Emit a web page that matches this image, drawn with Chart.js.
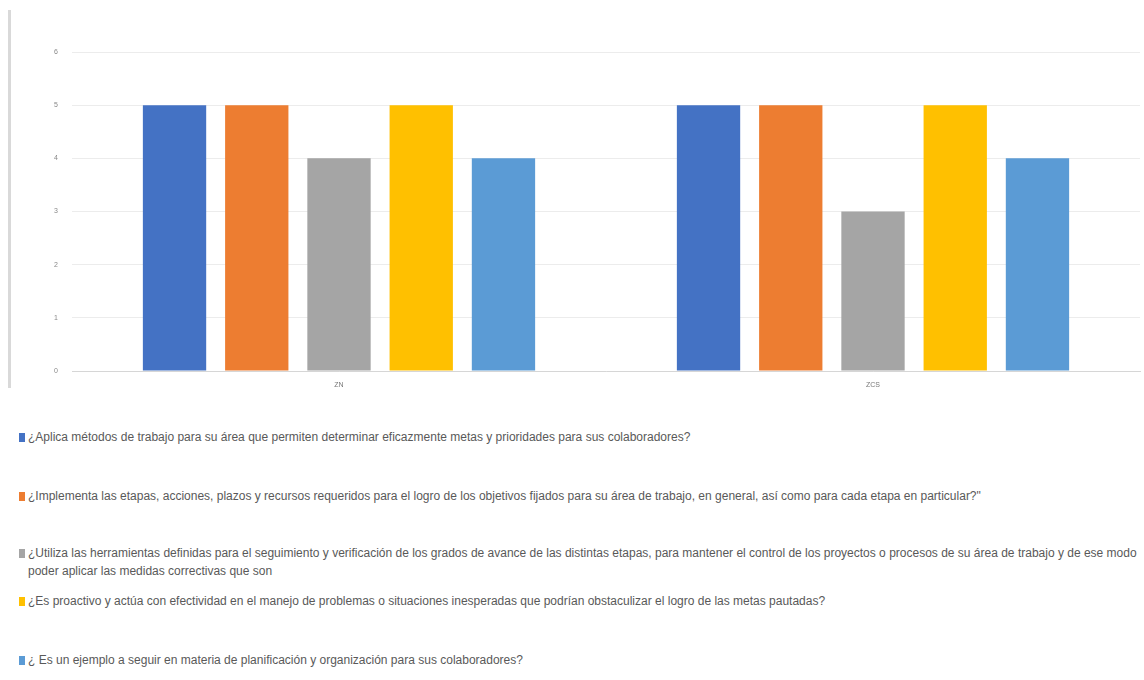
<!DOCTYPE html>
<html>
<head>
<meta charset="utf-8">
<script src="https://cdn.jsdelivr.net/npm/chart.js@4.4.0/dist/chart.umd.min.js"></script>
<style>
  body { margin: 0; background: #fff; width: 1144px; height: 680px; overflow: hidden; position: relative; }
  #chart-box { position: absolute; left: 0; top: 0; width: 1144px; height: 392px; }
  #frame { position: absolute; left: 8px; top: 10px; height: 378px; border-left: 3px solid #d9d9d9; }
  .item { position: absolute; left: 19px; width: 1116px; padding-left: 9px; text-indent: -9px;
          font-family: "Liberation Sans", Arial, sans-serif; font-size: 12px; line-height: 18px; color: #595959; }
  .item i { display: inline-block; width: 6px; height: 9px; margin-right: 3px; vertical-align: -1px; }
</style>
</head>
<body>
<div id="chart-box"><canvas id="bars"></canvas></div>
<div id="frame"></div>
<div id="legend"></div>
<script>
// categories and answers per question
const zones = ["ZN", "ZCS"];
const questions = [
  "¿Aplica métodos de trabajo para su área que permiten determinar eficazmente metas y prioridades para sus colaboradores?",
  "¿Implementa las etapas, acciones, plazos y recursos requeridos para el logro de los objetivos fijados para su área de trabajo, en general, así como para cada etapa en particular?\"",
  "¿Utiliza las herramientas definidas para el seguimiento y verificación de los grados de avance de las distintas etapas, para mantener el control de los proyectos o procesos de su área de trabajo y de ese modo poder aplicar las medidas correctivas que son",
  "¿Es proactivo y actúa con efectividad en el manejo de problemas o situaciones inesperadas que podrían obstaculizar el logro de las metas pautadas?",
  "¿ Es un ejemplo a seguir en materia de planificación y organización para sus colaboradores?"
];
const q1 = [5, 5];
const q2 = [5, 5];
const q3 = [4, 3];
const q4 = [5, 5];
const q5 = [4, 4];
const colors = ["#4472C4", "#ED7D31", "#A5A5A5", "#FFC000", "#5B9BD5"];
const legendTops = [428, 487, 544, 592, 651];

const series = [q1, q2, q3, q4, q5];

const context = document.getElementById("bars").getContext("2d");
const chart = new Chart(context, {
  type: "bar",
  data: {
    labels: zones,
    datasets: series.map((values, i) => ({
      label: questions[i],
      data: values,
      backgroundColor: colors[i],
      barPercentage: 0.77,
      categoryPercentage: 0.77
    }))
  },
  options: {
    responsive: true,
    maintainAspectRatio: false,
    animation: false,
    layout: { padding: { left: 14, top: 52, right: 4, bottom: 0 } },
    plugins: { legend: { display: false }, tooltip: { enabled: false } },
    scales: {
      x: {
        grid: { display: false },
        border: { color: "#d6d6d6", width: 1 },
        ticks: { color: "#777", font: { size: 7 }, padding: 2 },
        afterFit: (scale) => { scale.height = 21; }
      },
      y: {
        min: 0,
        max: 6,
        ticks: { stepSize: 1, color: "#888", font: { size: 7 }, padding: 14 },
        grid: { color: "#ececec", drawTicks: false },
        border: { display: false },
        afterFit: (scale) => { scale.width = 58; }
      }
    }
  }
});

// legend below the chart, one entry per question (wrapped lines hang under the text)
const legend = document.getElementById("legend");
questions.forEach((text, i) => {
  const row = document.createElement("div");
  row.className = "item";
  row.style.top = legendTops[i] + "px";
  row.innerHTML = `<i style="background:${colors[i]}"></i>${text}`;
  legend.appendChild(row);
});
</script>
</body>
</html>
